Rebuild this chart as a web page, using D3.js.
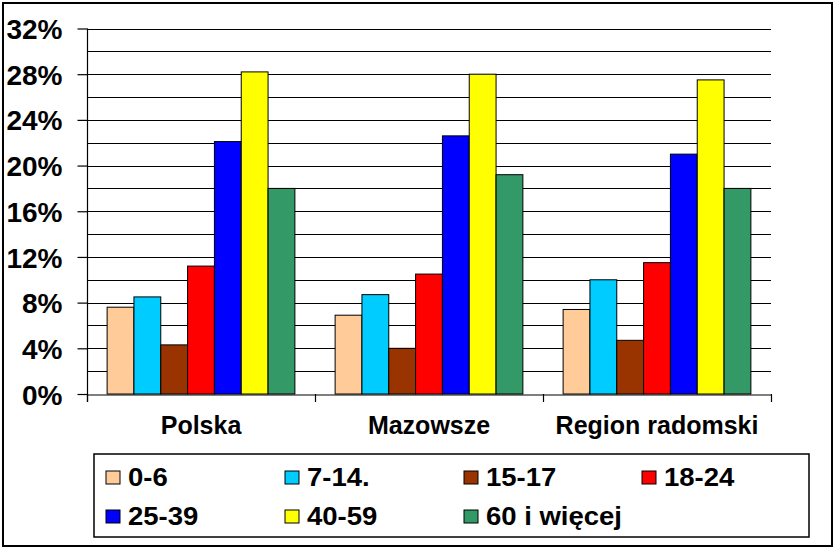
<!DOCTYPE html>
<html>
<head>
<meta charset="utf-8">
<script src="https://cdn.jsdelivr.net/npm/d3@7/dist/d3.min.js"></script>
<style>
  html, body { margin: 0; padding: 0; background: #fff; }
  svg { display: block; }
  text { font-family: "Liberation Sans", Arial, sans-serif; font-weight: bold; fill: #000; }
</style>
</head>
<body>
<svg id="chart" width="837" height="549"></svg>
<script>
const categories = ["Polska", "Mazowsze", "Region radomski"];
const seriesNames = ["0-6", "7-14.", "15-17", "18-24", "25-39", "40-59", "60 i więcej"];
const seriesColors = ["#FFCC99", "#00CCFF", "#993300", "#FF0000", "#0000FF", "#FFFF00", "#339966"];
const values_0_6 = [7.6, 6.9, 7.4];
const values_7_14 = [8.5, 8.7, 10.0];
const values_15_17 = [4.3, 4.0, 4.7];
const values_18_24 = [11.2, 10.5, 11.5];
const values_25_39 = [22.1, 22.6, 21.0];
const values_40_59 = [28.2, 28.0, 27.5];
const values_60plus = [18.0, 19.2, 18.0];
const yTickLabels = ["0%", "4%", "8%", "12%", "16%", "20%", "24%", "28%", "32%"];
const yTickValues = [0, 4, 8, 12, 16, 20, 24, 28, 32];
const gridValues = [2, 4, 6, 8, 10, 12, 14, 16, 18, 20, 22, 24, 26, 28, 30, 32];

const seriesValues = [values_0_6, values_7_14, values_15_17, values_18_24, values_25_39, values_40_59, values_60plus];

const svg = d3.select("#chart");
const plot = { left: 87, right: 771, top: 28.5, bottom: 394 };

// outer border
svg.append("rect").attr("x", 3).attr("y", 3).attr("width", 829).attr("height", 543)
  .attr("fill", "none").attr("stroke", "#000").attr("stroke-width", 2);

const x0 = d3.scaleBand().domain(categories).range([plot.left, plot.right]).padding(0);
const x1 = d3.scaleBand().domain(seriesNames).range([0, x0.bandwidth()]).paddingInner(0).paddingOuter(0.75);
const y = d3.scaleLinear().domain([0, 32]).range([plot.bottom, plot.top]);

// gridlines
svg.append("g").selectAll("line").data(gridValues).join("line")
  .attr("x1", plot.left).attr("x2", plot.right)
  .attr("y1", d => Math.round(y(d)) + 0.5).attr("y2", d => Math.round(y(d)) + 0.5)
  .attr("stroke", "#000").attr("stroke-width", 1.2);

// bars
const groups = svg.append("g").selectAll("g").data(categories).join("g")
  .attr("transform", c => `translate(${x0(c)},0)`);
groups.selectAll("rect").data((c, ci) => seriesNames.map((s, si) => ({ s, si, v: seriesValues[si][ci] })))
  .join("rect")
  .attr("x", d => x1(d.s))
  .attr("y", d => y(d.v))
  .attr("width", x1.bandwidth())
  .attr("height", d => y(0) - y(d.v))
  .attr("fill", d => seriesColors[d.si])
  .attr("stroke", "#000").attr("stroke-width", 1);

// y axis
const yAxis = d3.axisLeft(y).tickValues(yTickValues).tickSize(10)
  .tickFormat((d, i) => yTickLabels[i]);
const ya = svg.append("g").attr("transform", `translate(${plot.left + 0.5},0)`).call(yAxis);
ya.select(".domain").remove();
ya.selectAll(".tick line").attr("stroke", "#000").attr("stroke-width", 1.2);
ya.selectAll(".tick text").attr("x", -25).attr("dy", "0.36em")
  .style("font-size", "28px").style("font-family", "Liberation Sans, Arial, sans-serif").style("font-weight", "bold");
svg.append("line").attr("x1", plot.left + 0.5).attr("x2", plot.left + 0.5)
  .attr("y1", plot.top).attr("y2", plot.bottom + 8).attr("stroke", "#000").attr("stroke-width", 1.2);

// x axis
const xAxis = d3.axisBottom(x0).tickSize(0).tickPadding(20);
const xa = svg.append("g").attr("transform", `translate(0,${Math.round(y(0)) + 0.5})`).call(xAxis);
xa.select(".domain").attr("stroke", "#000").attr("stroke-width", 1.2);
xa.selectAll(".tick text").attr("y", 0).attr("dy", 39)
  .style("font-size", "25px").style("font-family", "Liberation Sans, Arial, sans-serif").style("font-weight", "bold");
// category boundary ticks
const bounds = categories.map(c => x0(c)).concat([x0(categories[categories.length - 1]) + x0.bandwidth()]);
svg.append("g").selectAll("line").data(bounds).join("line")
  .attr("x1", d => Math.round(d) + 0.5).attr("x2", d => Math.round(d) + 0.5)
  .attr("y1", plot.bottom).attr("y2", plot.bottom + 8)
  .attr("stroke", "#000").attr("stroke-width", 1.2);

// legend
svg.append("rect").attr("x", 94).attr("y", 454).attr("width", 715).attr("height", 83)
  .attr("fill", "#fff").attr("stroke", "#000").attr("stroke-width", 1.5);
const colX = [106, 285, 464, 642];
const rowBase = [486, 525];
const leg = svg.append("g").selectAll("g").data(seriesNames).join("g")
  .attr("transform", (d, i) => `translate(${colX[i % 4]},${rowBase[Math.floor(i / 4)]})`);
leg.append("rect").attr("x", 0).attr("y", -15).attr("width", 14).attr("height", 13)
  .attr("fill", (d, i) => seriesColors[i]).attr("stroke", "#000").attr("stroke-width", 1);
leg.append("text").attr("transform", "translate(22,0) scale(1.1,1)")
  .style("font-size", "25px").text(d => d);
</script>
</body>
</html>
